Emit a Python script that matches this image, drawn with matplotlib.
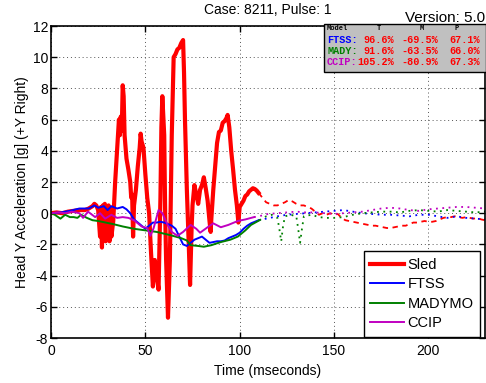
import matplotlib
matplotlib.use("Agg")
import matplotlib.pyplot as plt
from matplotlib.patches import Rectangle

plt.rcParams['font.family'] = ['Liberation Sans', 'DejaVu Sans']
plt.rcParams['axes.unicode_minus'] = False

# ---------------- data ----------------
sled_t = [0, 3, 6, 9, 12, 15, 18, 20, 22, 23, 24, 25, 26, 26.5, 27, 27.5, 28, 28.5, 29, 29.5, 30, 30.5,
          31, 31.5, 32, 33, 34, 35, 36, 36.5, 37, 37.5, 38, 38.5, 39, 40, 41, 42, 42.5, 43, 43.5, 44, 45,
          46, 47, 47.5, 48, 49, 50, 51, 52, 53, 54, 55, 56, 57, 58, 58.5, 59, 60, 60.5, 61, 62, 63, 64,
          65, 66, 67, 68, 69, 70, 70.5, 71, 72, 73, 73.7, 74.5, 75, 76, 77, 78, 79, 80, 81, 82, 83, 84,
          84.6, 85, 86, 87, 88, 89, 90, 91, 92, 93, 93.6, 94.5, 95.5, 96.5, 97.5, 98.5, 99.3, 100, 101,
          102, 103, 104, 105, 106, 107, 108, 109, 110]
sled_g = [0.0, 0.05, 0.0, 0.1, 0.15, 0.2, 0.2, 0.3, 0.45, 0.6, 0.5, 0.2, -1.5, 0.4, -2.2, 0.5, -1.0, 0.6,
          -1.8, 0.4, -1.2, 0.5, -1.8, 0.3, -1.5, -0.5, 2.0, 4.0, 6.0, 5.0, 6.2, 5.3, 8.2, 7.5, 5.0, 3.5,
          2.8, 2.0, 1.0, 1.2, -1.5, 0.5, 1.5, 3.0, 4.2, 5.1, 4.6, 4.2, 2.5, 1.0, 0.0, -2.5, -4.7, -3.0,
          -4.0, -4.9, 1.0, 5.5, 7.5, 5.0, 0.0, -3.0, -6.7, -3.0, 5.0, 10.0, 10.2, 10.5, 10.6, 10.9, 11.1,
          9.0, 6.0, 1.5, -2.0, -4.6, -1.0, 0.5, 1.8, 1.2, 0.6, 1.5, 1.8, 2.3, 1.6, 0.8, -0.5, -1.2, -0.3,
          1.5, 3.0, 4.5, 5.2, 5.3, 5.8, 5.9, 6.1, 6.3, 5.5, 4.0, 2.8, 1.5, 0.5, -0.6, 0.4, 0.6, 0.8, 1.1,
          1.2, 1.4, 1.5, 1.6, 1.55, 1.45, 1.3]
sled_tail_t = [110, 112, 114, 116, 118, 120, 122, 124, 126, 128, 130, 132, 134, 136, 138, 140, 142, 144,
               146, 148, 150, 152, 154, 156, 158, 160, 162, 164, 166, 168, 170, 172, 174, 176, 178, 180,
               182, 184, 186, 188, 190, 192, 194, 196, 198, 200, 202, 204, 206, 208, 210, 212, 214, 216,
               218, 220, 222, 224, 226, 228, 230]
sled_tail_g = [1.3, 1.0, 0.7, 0.6, 0.5, 0.5, 0.6, 0.7, 0.85, 0.75, 0.6, 0.5, 0.5, 0.4, 0.3, 0.1, -0.1, 0.0,
               -0.1, 0.0, -0.1, -0.05, -0.3, -0.45, -0.5, -0.55, -0.6, -0.65, -0.7, -0.75, -0.8, -0.8,
               -0.85, -0.9, -0.95, -0.95, -0.9, -0.85, -0.8, -0.8, -0.7, -0.6, -0.6, -0.55, -0.5, -0.55,
               -0.55, -0.5, -0.4, -0.3, -0.25, -0.25, -0.2, -0.25, -0.3, -0.25, -0.3, -0.35, -0.3, -0.4,
               -0.45]

ftss_t = [0, 5, 10, 15, 20, 23, 25, 28, 30, 32, 35, 38, 40, 42, 44, 46, 48, 50, 52, 54, 56, 58, 60, 62,
          64, 66, 68, 70, 72, 74, 76, 78, 80, 82, 84, 86, 88, 90, 92, 94, 96, 98, 100, 102, 104, 106,
          108, 110]
ftss_g = [0.0, 0.05, 0.15, 0.3, 0.3, 0.5, 0.35, 0.45, 0.2, 0.45, 0.3, 0.4, 0.25, 0.0, -0.4, -0.6, -0.8,
          -1.0, -0.8, -0.6, -0.6, -0.55, -0.6, -0.7, -0.8, -1.0, -1.5, -2.0, -2.1, -1.9, -1.7, -1.6,
          -1.5, -1.7, -1.9, -1.85, -1.8, -1.8, -1.75, -1.6, -1.5, -1.4, -1.25, -1.0, -0.8, -0.65, -0.55,
          -0.45]
ftss_tail_t = [110, 112, 116, 120, 125, 130, 135, 140, 145, 150, 155, 160, 165, 170, 175, 180, 185, 190,
               195, 200, 205, 210, 215, 220, 225, 230]
ftss_tail_g = [-0.45, -0.4, -0.3, -0.2, -0.1, -0.05, 0.0, 0.05, 0.1, 0.15, 0.2, 0.1, 0.0, -0.05, -0.1,
               -0.1, -0.15, -0.2, -0.1, -0.1, -0.2, -0.3, -0.2, -0.3, -0.35, -0.4]

mady_t = [0, 2, 5, 7.5, 10, 12, 14, 16, 19, 22, 25, 29, 33, 38, 44, 50, 56, 63, 69, 72, 74, 78, 81, 85,
          90, 95, 99, 103, 106, 110.5]
mady_g = [0.0, -0.1, -0.35, -0.1, -0.25, -0.25, -0.3, -0.1, -0.3, -0.45, -0.5, -0.6, -0.7, -0.85, -1.0,
          -1.1, -1.2, -1.4, -1.6, -1.75, -2.05, -2.1, -2.15, -2.05, -1.85, -1.7, -1.5, -1.1, -0.75,
          -0.45]
mady_tail_t = [110.5, 114, 117, 120, 121, 122, 123, 124, 127, 130, 131, 132, 133, 134, 138, 142, 146,
               150, 155, 160, 165, 170, 175, 180, 185, 190, 195, 200, 205, 210, 215, 220, 225, 230]
mady_tail_g = [-0.45, -0.2, -0.1, -0.3, -1.0, -1.8, -0.8, -0.2, -0.1, -0.2, -1.0, -1.9, -1.0, -0.2,
               -0.1, -0.25, -0.3, -0.3, -0.25, -0.1, 0.0, 0.05, 0.1, 0.1, 0.05, 0.15, 0.2, 0.15, 0.1,
               0.2, 0.15, 0.1, 0.05, 0.1]

ccip_t = [0, 4, 7.5, 11, 15, 17, 19.6, 23.4, 26, 28.7, 32, 35, 38, 41, 44, 48, 51, 52.7, 54.4, 57, 59,
          62, 64, 67, 70, 74, 77, 79, 83, 86, 90, 94, 99, 103, 107.6]
ccip_g = [0.0, 0.05, 0.0, 0.1, 0.0, -0.3, 0.1, -0.25, 0.0, -0.35, -0.1, -0.3, -0.25, -0.3, -0.45, -0.85,
          -0.95, -1.45, -0.95, 0.2, 0.0, -0.8, -1.2, -1.45, -1.2, -0.75, -1.0, -1.25, -0.9, -0.65,
          -0.9, -0.75, -0.5, -0.4, -0.25]
ccip_tail_t = [107.6, 110, 115, 120, 125, 130, 135, 140, 145, 150, 155, 160, 165, 170, 175, 180, 185,
               190, 195, 200, 205, 210, 215, 220, 225, 230]
ccip_tail_g = [-0.25, -0.2, -0.05, 0.0, 0.05, 0.1, 0.05, 0.05, 0.0, -0.05, 0.0, 0.05, 0.1, 0.2, 0.3,
               0.35, 0.3, 0.2, 0.15, 0.25, 0.3, 0.35, 0.4, 0.4, 0.35, 0.3]

series_names = ['Sled', 'FTSS', 'MADYMO', 'CCIP']
table_models = ['FTSS:', 'MADY:', 'CCIP:']
table_T = ['96.6%', '91.6%', '105.2%']
table_M = ['-69.5%', '-63.5%', '-80.9%']
table_P = ['67.1%', '66.0%', '67.3%']

xticks = [0, 50, 100, 150, 200]
yticks = [-8, -6, -4, -2, 0, 2, 4, 6, 8, 10, 12]

# ---------------- figure ----------------
W, H = 486, 383
fig = plt.figure(figsize=(W / 100, H / 100), dpi=100)
L, R, T, B = 51, 485, 26, 338
ax = fig.add_axes([L / W, 1 - B / H, (R - L) / W, (B - T) / H])

red, blue, green, mag = '#ff0000', '#0000ff', '#008000', '#c000c0'
dot = (0, (1, 2.5))

ax.plot(sled_tail_t, sled_tail_g, color=red, lw=1.3, ls=(0, (3, 2.5)))
ax.plot(ftss_tail_t, ftss_tail_g, color=blue, lw=1.3, ls=dot)
ax.plot(mady_tail_t, mady_tail_g, color=green, lw=1.3, ls=dot)
ax.plot(ccip_tail_t, ccip_tail_g, color=mag, lw=1.3, ls=dot)

l1, = ax.plot(sled_t, sled_g, color=red, lw=3.0, label=series_names[0])
l2, = ax.plot(ftss_t, ftss_g, color=blue, lw=1.4, label=series_names[1])
l3, = ax.plot(mady_t, mady_g, color=green, lw=1.4, label=series_names[2])
l4, = ax.plot(ccip_t, ccip_g, color=mag, lw=1.4, label=series_names[3])

ax.set_xlim(0, 230)
ax.set_ylim(-8, 12)
ax.set_xticks(xticks)
ax.set_yticks(yticks)
ax.tick_params(axis='both', direction='in', top=True, right=True, labelsize=10, length=4, width=1)
ax.tick_params(axis='x', pad=4)
ax.tick_params(axis='y', pad=2)
ax.grid(True, color='#555555', ls=(0, (1, 3)), lw=0.7)
for s in ax.spines.values():
    s.set_linewidth(1.2)

ax.set_xlabel('Time (mseconds)', fontsize=10, labelpad=5)
ax.set_ylabel('Head Y Acceleration [g] (+Y Right)', fontsize=10, labelpad=3)
fig.text((L + R) / 2 / W, 1 - 10 / H, 'Case: 8211, Pulse: 1', ha='center', va='center', fontsize=10)
fig.text(485 / W, 1 - 18 / H, 'Version: 5.0', ha='right', va='center', fontsize=11)

leg = ax.legend(handles=[l1, l2, l3, l4], loc='lower right',
                bbox_to_anchor=((480 - L) / (R - L), (B - 337) / (B - T)),
                borderaxespad=0, fancybox=False, framealpha=1, edgecolor='black',
                fontsize=10.5, handlelength=2.3, labelspacing=0.38, handletextpad=0.25,
                borderpad=0.45)
leg.get_frame().set_linewidth(1.0)

# ---------------- inset table ----------------
tx0, tx1, ty0, ty1 = 324, 486, 24, 72
fig.patches.append(Rectangle((tx0 / W, 1 - ty1 / H), (tx1 - tx0) / W, (ty1 - ty0) / H,
                             transform=fig.transFigure, facecolor='#c0c0c0', edgecolor='black',
                             lw=1.0, zorder=5))
mono = ['Liberation Mono', 'DejaVu Sans Mono']
hdr_y = 29
fig.text(327 / W, 1 - hdr_y / H, 'Model', fontsize=5, family=mono, weight='bold',
         va='center', ha='left', zorder=6)
for txt, xx in zip(['T', 'M', 'P'], [379, 422, 457]):
    fig.text(xx / W, 1 - hdr_y / H, txt, fontsize=5, family=mono, weight='bold',
             va='center', ha='center', zorder=6)
row_y = [40, 51, 62]
row_c = [blue, green, mag]
for i in range(3):
    yy = 1 - row_y[i] / H
    fig.text(327 / W, yy, table_models[i], fontsize=7.3, family=mono, weight='bold',
             color=row_c[i], va='center', ha='left', zorder=6)
    fig.text(394 / W, yy, table_T[i], fontsize=7.3, family=mono, weight='bold',
             color=red, va='center', ha='right', zorder=6)
    fig.text(438 / W, yy, table_M[i], fontsize=7.3, family=mono, weight='bold',
             color=red, va='center', ha='right', zorder=6)
    fig.text(480 / W, yy, table_P[i], fontsize=7.3, family=mono, weight='bold',
             color=red, va='center', ha='right', zorder=6)

fig.savefig('out.png', dpi=100)
